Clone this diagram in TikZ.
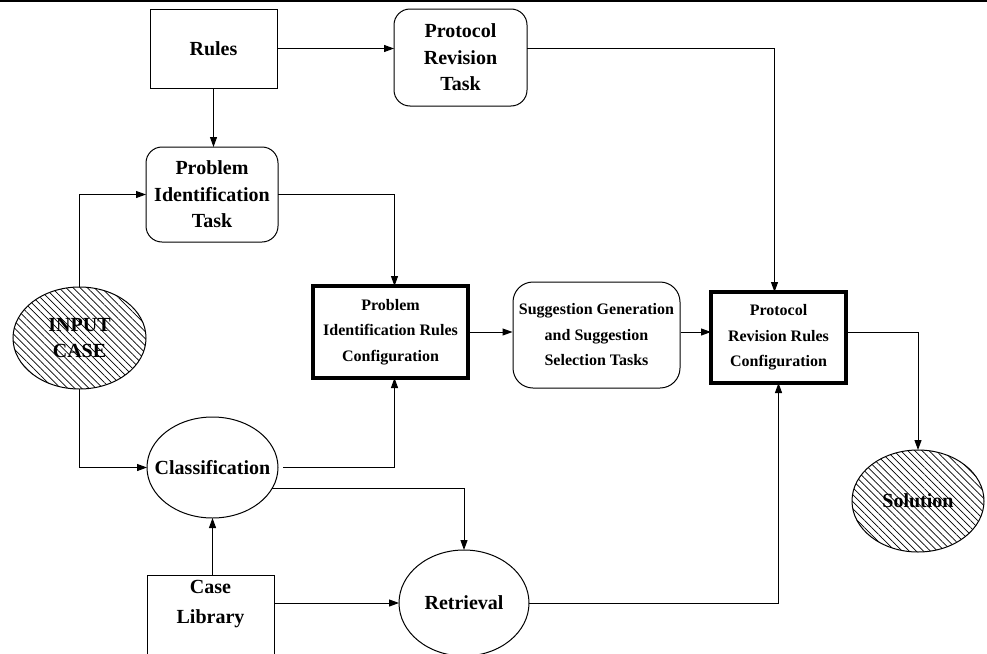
\documentclass[tikz,border=0pt]{standalone}
\usepackage{fontspec}
\setmainfont{Liberation Serif}
\usetikzlibrary{arrows.meta,shapes.geometric,patterns.meta}
\tikzset{
    big/.style={font=\bfseries\fontsize{20}{26.5}\selectfont,align=center},
    small/.style={font=\bfseries\fontsize{16}{25.5}\selectfont,align=center},
    plainbox/.style={big,draw,line width=1pt,rectangle,inner sep=0pt,outer sep=0pt},
    taskbox/.style={plainbox,rounded corners=16pt},
    rulesbox/.style={small,draw,line width=4pt,rectangle,inner sep=0pt,outer sep=0pt},
    oval/.style={big,draw,line width=1pt,ellipse,inner sep=0pt,outer sep=0pt},
    hatched/.style={oval,pattern={Lines[angle=-45,distance=5pt,line width=0.7pt]}},
    link/.style={line width=1pt,->}
}
\begin{document}
\begin{tikzpicture}[>={Triangle[length=10pt,width=7pt]},x=1pt,y=-1pt]
    \clip (0,0) rectangle (987,653);
    \draw[line width=1.5pt] (0,0.75) -- (987,0.75);

    % Upper row: rules and tasks.
    \node[plainbox,minimum width=127,minimum height=79] (rules) at (213.5,48.5)
        {Rules};
    \node[taskbox,minimum width=133,minimum height=97] (prt) at (460.5,57.5)
        {Protocol\\Revision\\Task};
    \node[taskbox,minimum width=132,minimum height=95] (pit) at (212,194.5)
        {Problem\\Identification\\Task};

    % Middle row: input and configurations.
    \node[hatched,minimum width=133,minimum height=102] (input) at (79.5,338)
        {INPUT\\CASE};
    \node[rulesbox,minimum width=155,minimum height=92] (pirc) at (390.5,332)
        {Problem\\Identification Rules\\Configuration};
    \node[small,draw,line width=1pt,rounded corners=20pt,inner sep=0pt,
        minimum width=167,minimum height=106] (sgst) at (596.5,335)
        {Suggestion Generation\\and Suggestion\\Selection Tasks};
    \node[rulesbox,minimum width=135,minimum height=91] (prrc) at (778.5,337.5)
        {Protocol\\Revision Rules\\Configuration};
    \node[hatched,minimum width=132,minimum height=102] (solution) at (918,501)
        {Solution};

    % Lower row: classification and retrieval.
    \node[oval,inner xsep=-12pt,minimum width=131,minimum height=101] (classif)
        at (212.5,467.5) {Classification};
    \node[plainbox,minimum width=127,minimum height=110] (caselib) at (210.5,630) {};
    \node[big,font=\bfseries\fontsize{20}{30}\selectfont] (caselibtext)
        at (210.5,604) {Case\\Library};
    \node[oval,minimum width=130,minimum height=106] (retrieval) at (464,603)
        {Retrieval};

    % Connectors.
    \draw[link] (rules.east) -- (rules.east -| prt.west);
    \draw[link] (prt.east |- rules.east) -| ([xshift=-4pt]prrc.north);
    \draw[link] (rules.south) -- (rules.south |- pit.north);
    \draw[link] (input.north) |- (pit.west);
    \draw[link] (pit.east) -| ([xshift=4pt]pirc.north);
    \draw[link] (input.south) |- (classif.west);
    \draw[link] ([xshift=5pt]classif.east) -| ([xshift=4pt]pirc.south);
    \draw[link] (classif.-19) -| (retrieval.north);
    \draw[link] (classif.south |- caselib.north) -- (classif.south);
    \draw[link] (caselib.east |- retrieval.west) -- (retrieval.west);
    \draw[link] (retrieval.east) -| (prrc.south);
    \draw[link] (pirc.east) -- (pirc.east -| sgst.west);
    \draw[link] (pirc.east -| sgst.east) -- (pirc.east -| prrc.west);
    \draw[link] (pirc.east -| prrc.east) -| (solution.north);
\end{tikzpicture}
\end{document}
